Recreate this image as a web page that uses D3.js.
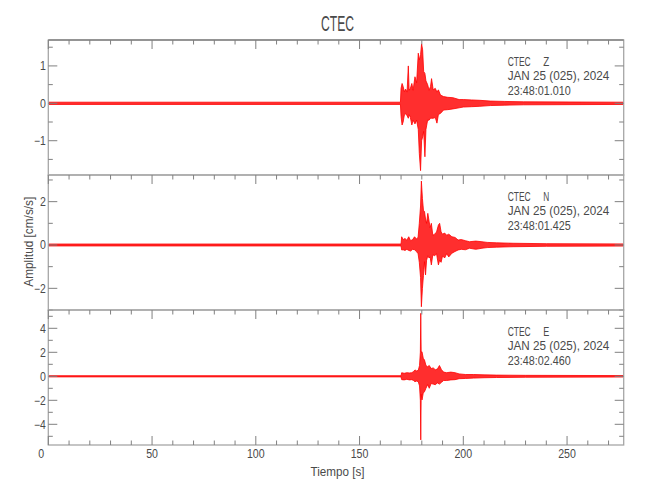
<!DOCTYPE html>
<html><head><meta charset="utf-8">
<script src="https://cdn.jsdelivr.net/npm/d3@7"></script>
<style>
body{margin:0;background:#fff}
text{font-family:"Liberation Sans Narrow","Liberation Sans",Arial,sans-serif;fill:#4a4a4a}
</style>
</head><body><svg id="c" width="650" height="500"></svg>
<script>
const title = "CTEC";
const station = "CTEC";
const components = ["Z", "N", "E"];
const dateLabel = "JAN 25 (025), 2024";
const startTimes = ["23:48:01.010", "23:48:01.425", "23:48:02.460"];
const xLabel = "Tiempo [s]";
const yLabel = "Amplitud [cm/s/s]";
const xLimits = [0, 277.3];
const xTickValues = [0, 50, 100, 150, 200, 250];
const xMinorStep = 10;
const yLimits = [[-1.917, 1.693], [-3.0, 3.23], [-5.725, 5.525]];
const yTickValues = [[-1, 0, 1], [-2, 0, 2], [-4, -2, 0, 2, 4]];
const yMinorSteps = [0.5, 1, 1];

// Envelope of each trace: time (s), upper and lower amplitude (cm/s/s)
const zTime  = [0, 169.7, 170.0, 170.5, 171.0, 171.6, 172.2, 172.9, 173.5, 173.9, 174.5, 175.2, 175.8, 176.7, 177.5, 178.3, 178.8, 179.4, 179.9, 180.4, 180.9, 181.5, 182.0, 182.8, 183.5, 184.2, 184.7, 185.5, 186.5, 187.3, 188.0, 189.0, 190.5, 192.5, 195, 198, 200, 204, 208, 213, 220, 229, 277.3];
const zUpper = [0.03, 0.03, 0.40, 0.53, 0.45, 0.31, 0.38, 0.30, 1.00, 0.35, 0.40, 0.53, 0.35, 0.71, 0.55, 1.34, 1.16, 1.30, 1.59, 1.43, 0.85, 0.80, 0.60, 0.50, 0.35, 0.45, 0.66, 0.36, 0.40, 0.30, 0.36, 0.22, 0.18, 0.16, 0.15, 0.10, 0.10, 0.09, 0.08, 0.06, 0.05, 0.04, 0.03];
const zLower = [-0.03, -0.03, -0.35, -0.58, -0.50, -0.31, -0.28, -0.33, -0.40, -0.30, -0.38, -0.58, -0.45, -0.55, -0.45, -0.70, -1.34, -1.80, -1.00, -0.90, -0.75, -1.43, -0.70, -0.45, -0.45, -0.40, -0.40, -0.40, -0.38, -0.53, -0.30, -0.27, -0.18, -0.17, -0.15, -0.12, -0.10, -0.09, -0.08, -0.06, -0.05, -0.04, -0.03];

const nTime  = [0, 170.0, 170.3, 171.0, 171.9, 172.8, 173.7, 174.6, 175.6, 176.5, 177.4, 178.2, 178.8, 179.4, 179.8, 180.3, 180.8, 181.3, 181.8, 182.3, 182.9, 183.5, 184.0, 184.6, 185.3, 186.2, 187.1, 188.0, 188.6, 189.3, 190.0, 191.0, 192.0, 193.0, 194.5, 196.0, 197.5, 199.0, 201.0, 203.0, 206.0, 209.0, 211.5, 216, 224, 240, 277.3];
const nUpper = [0.045, 0.045, 0.38, 0.25, 0.30, 0.22, 0.38, 0.20, 0.25, 0.38, 0.28, 0.35, 1.00, 1.80, 2.95, 2.15, 1.60, 1.54, 1.20, 1.00, 1.46, 1.10, 0.80, 1.00, 0.45, 0.50, 0.60, 0.92, 1.00, 0.60, 0.50, 0.55, 0.45, 0.50, 0.38, 0.35, 0.23, 0.25, 0.20, 0.15, 0.18, 0.15, 0.12, 0.10, 0.08, 0.06, 0.05];
const nLower = [-0.045, -0.045, -0.23, -0.22, -0.25, -0.20, -0.25, -0.28, -0.20, -0.22, -0.30, -0.40, -0.80, -1.50, -2.85, -2.00, -1.40, -0.77, -1.38, -0.70, -0.50, -0.60, -0.55, -0.92, -0.45, -0.50, -0.40, -0.92, -0.70, -0.80, -0.50, -0.60, -0.40, -0.55, -0.38, -0.30, -0.23, -0.20, -0.22, -0.15, -0.20, -0.15, -0.12, -0.10, -0.08, -0.06, -0.05];

const eTime  = [0, 170.0, 170.3, 171.5, 172.8, 174.0, 175.2, 176.0, 176.7, 177.5, 178.3, 178.9, 179.3, 179.5, 179.7, 180.1, 180.7, 181.3, 182.0, 182.8, 183.6, 184.5, 185.5, 186.5, 187.5, 188.5, 189.5, 190.5, 192, 194, 196, 198, 201, 205, 210, 216, 230, 277.3];
const eUpper = [0.05, 0.05, 0.30, 0.25, 0.30, 0.28, 0.30, 0.40, 0.53, 0.45, 0.50, 0.90, 2.00, 5.25, 2.00, 2.05, 1.50, 1.36, 0.90, 0.80, 0.90, 0.65, 0.70, 0.55, 0.60, 0.90, 0.55, 0.35, 0.30, 0.35, 0.30, 0.20, 0.15, 0.15, 0.12, 0.10, 0.08, 0.06];
const eLower = [-0.05, -0.05, -0.28, -0.30, -0.25, -0.30, -0.28, -0.35, -0.45, -0.40, -0.45, -0.80, -2.00, -5.30, -1.50, -1.97, -1.40, -1.28, -1.00, -0.70, -1.00, -0.60, -0.65, -0.70, -0.55, -0.65, -0.50, -0.35, -0.35, -0.30, -0.28, -0.20, -0.18, -0.15, -0.12, -0.10, -0.08, -0.06];

const traces = [
  {time: zTime, upper: zUpper, lower: zLower},
  {time: nTime, upper: nUpper, lower: nLower},
  {time: eTime, upper: eUpper, lower: eLower}
];

const svg = d3.select("#c");
const left = 48.3, right = 623.7, top0 = 40, panelH = 135;
const x = d3.scaleLinear().domain(xLimits).range([left, right]);
const frameColor = "#a6a6a6", tickColor = "#808080";
const majorLen = 9, minorLen = 4.5;
const charW = 5.9;
const xMinor = d3.range(xLimits[0], xLimits[1], xMinorStep).filter(v => !xTickValues.includes(v));

traces.forEach((tr, i) => {
  const pTop = top0 + i * panelH, pBot = pTop + panelH;
  const y = d3.scaleLinear().domain(yLimits[i]).range([pBot, pTop]);
  const g = svg.append("g");
  const clipId = "clip" + i;
  svg.append("clipPath").attr("id", clipId).append("rect")
    .attr("x", left).attr("y", pTop).attr("width", right - left).attr("height", panelH);

  const pts = tr.time.map((t, k) => ({t, u: tr.upper[k], l: tr.lower[k]}));
  const area = d3.area().x(d => x(d.t)).y0(d => y(d.l)).y1(d => y(d.u));
  g.append("path").datum(pts).attr("d", area)
    .attr("clip-path", `url(#${clipId})`)
    .attr("fill", "#ff0000").attr("fill-opacity", 0.82)
    .attr("stroke", "#ff0000").attr("stroke-width", 0.8).attr("stroke-linejoin", "round");

  // frame
  g.append("rect").attr("x", left).attr("y", pTop).attr("width", right - left).attr("height", panelH)
    .attr("fill", "none").attr("stroke", frameColor).attr("stroke-width", 1.3);
  if (i === 0) g.append("line").attr("x1", left).attr("x2", right).attr("y1", pTop).attr("y2", pTop)
    .attr("stroke", "#858585").attr("stroke-width", 1.6);

  const drawXTicks = (yy, dir) => {
    xTickValues.forEach(v => g.append("line").attr("x1", x(v)).attr("x2", x(v))
      .attr("y1", yy).attr("y2", yy + dir * majorLen).attr("stroke", tickColor));
    xMinor.forEach(v => g.append("line").attr("x1", x(v)).attr("x2", x(v))
      .attr("y1", yy).attr("y2", yy + dir * minorLen).attr("stroke", tickColor));
  };
  drawXTicks(pTop, 1);
  if (i === traces.length - 1) drawXTicks(pBot, -1);

  const st = yMinorSteps[i];
  const minor = d3.range(Math.ceil(yLimits[i][0] / st) * st, yLimits[i][1], st)
    .filter(v => !yTickValues[i].some(m => Math.abs(m - v) < 1e-9));
  yTickValues[i].forEach(v => {
    g.append("line").attr("x1", left).attr("x2", left + majorLen).attr("y1", y(v)).attr("y2", y(v)).attr("stroke", tickColor);
    g.append("line").attr("x1", right).attr("x2", right - majorLen).attr("y1", y(v)).attr("y2", y(v)).attr("stroke", tickColor);
    const lab = v < 0 ? "\u2212" + Math.abs(v) : String(v);
    g.append("text").attr("x", left - 2.5).attr("y", y(v)).attr("dy", "0.36em")
      .attr("text-anchor", "end").attr("font-size", 12)
      .attr("textLength", charW * lab.length).attr("lengthAdjust", "spacingAndGlyphs").text(lab);
  });
  minor.forEach(v => {
    g.append("line").attr("x1", left).attr("x2", left + minorLen).attr("y1", y(v)).attr("y2", y(v)).attr("stroke", tickColor);
    g.append("line").attr("x1", right).attr("x2", right - minorLen).attr("y1", y(v)).attr("y2", y(v)).attr("stroke", tickColor);
  });

  const ax = 507.7;
  g.append("text").attr("x", ax).attr("y", pTop + 25.7).attr("font-size", 12.5)
    .attr("textLength", 23).attr("lengthAdjust", "spacingAndGlyphs").text(station);
  g.append("text").attr("x", 543.3).attr("y", pTop + 25.7).attr("font-size", 12.5)
    .attr("textLength", 6).attr("lengthAdjust", "spacingAndGlyphs").text(components[i]);
  g.append("text").attr("x", ax).attr("y", pTop + 40.3).attr("font-size", 12.5)
    .attr("textLength", 101.5).attr("lengthAdjust", "spacingAndGlyphs").text(dateLabel);
  g.append("text").attr("x", ax).attr("y", pTop + 55).attr("font-size", 12.5)
    .attr("textLength", 63).attr("lengthAdjust", "spacingAndGlyphs").text(startTimes[i]);
});

const bottom = top0 + traces.length * panelH;
xTickValues.forEach(v => {
  const lab = String(v);
  svg.append("text").attr("x", x(v) + (v === 0 ? -7 : 0)).attr("y", bottom + 13.3)
    .attr("text-anchor", "middle").attr("font-size", 12.5)
    .attr("textLength", charW * lab.length).attr("lengthAdjust", "spacingAndGlyphs").text(lab);
});

svg.append("text").attr("x", 337.5).attr("y", 476).attr("text-anchor", "middle").attr("font-size", 12.5)
  .attr("textLength", 54).attr("lengthAdjust", "spacingAndGlyphs").text(xLabel);
svg.append("text").attr("transform", "translate(33,241.7) rotate(-90)").attr("text-anchor", "middle")
  .attr("font-size", 12.5).attr("textLength", 90).attr("lengthAdjust", "spacingAndGlyphs").text(yLabel);
svg.append("text").attr("x", 337.5).attr("y", 31).attr("text-anchor", "middle").attr("font-size", 22)
  .attr("textLength", 33).attr("lengthAdjust", "spacingAndGlyphs").text(title);
</script></body></html>
